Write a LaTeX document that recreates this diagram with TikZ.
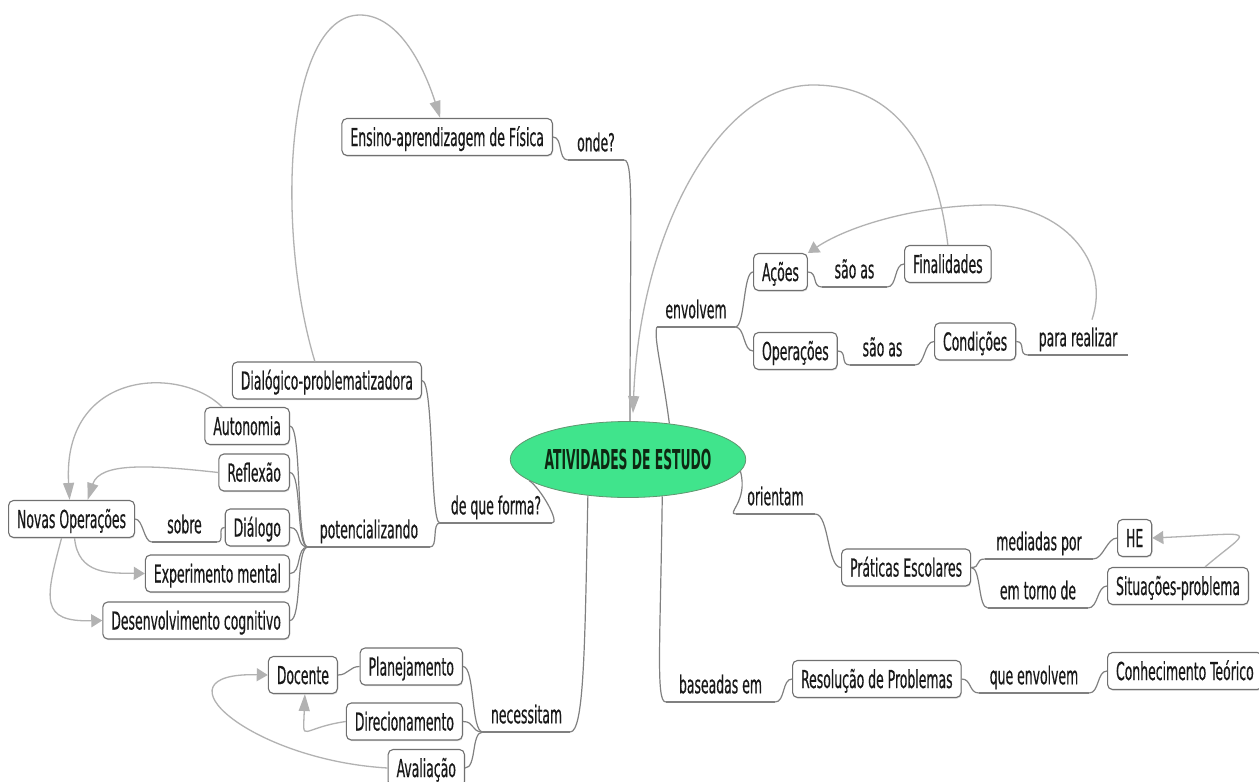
\documentclass[tikz,border=0pt]{standalone}
\usepackage{fontspec}
\setmainfont[FakeStretch=0.56,FakeBold=0.4]{DejaVu Sans Condensed}
\newfontfamily\rootfont[FakeStretch=0.5]{DejaVu Sans Condensed}
\usetikzlibrary{arrows.meta,shapes.geometric,shadows}
\definecolor{edgegray}{RGB}{128,128,128}
\definecolor{linkgray}{RGB}{178,178,178}
\definecolor{boxline}{RGB}{112,112,112}
\definecolor{rootfill}{RGB}{64,228,140}
\definecolor{rootline}{RGB}{96,150,112}
\definecolor{rootink}{RGB}{14,40,18}
\definecolor{ink}{RGB}{25,25,25}
\begin{document}
\begin{tikzpicture}[x=1pt,y=-1pt,
  every node/.style={font=\fontsize{24.7}{28}\selectfont, text=ink},
  concept/.style={draw=boxline, line width=1.1pt, fill=white, rounded corners=5pt,
    inner xsep=8.5pt, inner ysep=0pt, minimum height=37pt,
    text height=18pt, text depth=0pt,
    drop shadow={shadow xshift=0.6pt, shadow yshift=-1.2pt, fill=black!28}},
  rel/.style={anchor=south, inner xsep=0pt, inner ysep=8.5pt,
    text height=18pt, text depth=0pt},
  edge/.style={draw=edgegray, line width=1.2pt},
  link/.style={linkgray, line width=1.3pt},
  vtip/.style={-{Triangle[length=17pt,width=11pt]}},
  htip/.style={-{Triangle[length=11pt,width=13pt]}}
]
\fill[white] (0,0) rectangle (1259,782);
\useasboundingbox (0,0) rectangle (1259,782);

% central concept
\node[ellipse, draw=rootline, line width=0.8pt, fill=rootfill, minimum width=193pt,
  minimum height=76pt, inner sep=0pt, text=rootink,
  font=\rootfont\fontsize{27.4}{30}\selectfont\bfseries] (root) at (628,459.5) {ATIVIDADES DE ESTUDO};

% concepts
\node[concept, anchor=east] (ens) at (553,137) {Ensino-aprendizagem de Física};
\node[concept, anchor=east] (dia) at (422,380.5) {Dialógico-problematizadora};
\node[concept, anchor=east] (aut) at (290,426) {Autonomia};
\node[concept, anchor=east] (ref) at (290,472.5) {Reflexão};
\node[concept, anchor=east] (dlg) at (290,527.5) {Diálogo};
\node[concept, anchor=east] (exp) at (290,573.5) {Experimento mental};
\node[concept, anchor=east] (des) at (290,620.5) {Desenvolvimento cognitivo};
\node[concept, anchor=west] (nov) at (8,519) {Novas Operações};
\node[concept, anchor=east] (doc) at (338,675) {Docente};
\node[concept, anchor=east] (pla) at (463,666.5) {Planejamento};
\node[concept, anchor=east] (dir) at (463,721.5) {Direcionamento};
\node[concept, anchor=east] (ava) at (465,768) {Avaliação};
\node[concept, anchor=west] (aco) at (753,272) {Ações};
\node[concept, anchor=west] (fin) at (904,264) {Finalidades};
\node[concept, anchor=west] (ope) at (753,351) {Operações};
\node[concept, anchor=west] (con) at (934,341.5) {Condições};
\node[concept, anchor=west] (pra) at (841,567.5) {Práticas Escolares};
\node[concept, anchor=west] (he) at (1117,538) {HE};
\node[concept, anchor=west] (sit) at (1107,586) {Situações-problema};
\node[concept, anchor=west] (res) at (792,679) {Resolução de Problemas};
\node[concept, anchor=west] (conh) at (1107,671) {Conhecimento Teórico};

% relation labels (underlined)
\node[rel, minimum width=56pt] (onde) at (596,160) {onde?};
\node[rel, minimum width=78pt] (env) at (696,327) {envolvem};
\node[rel, minimum width=65pt] (sao1) at (854.5,287) {são as};
\node[rel, minimum width=65pt] (sao2) at (882.5,365) {são as};
\node[rel, minimum width=100pt] (para) at (1078,355) {para realizar};
\node[rel, minimum width=79pt] (ori) at (775.5,514) {orientam};
\node[rel, minimum width=108pt] (med) at (1039,559) {mediadas por};
\node[rel, minimum width=100pt] (tor) at (1038,608) {em torno de};
\node[rel, minimum width=109pt] (bas) at (720.5,702) {baseadas em};
\node[rel, minimum width=110pt] (que) at (1034,693) {que envolvem};
\node[rel, minimum width=112pt] (forma) at (496,523) {de que forma?};
\node[rel, minimum width=122pt] (pot) at (369,547) {potencializando};
\node[rel, minimum width=65pt] (sobre) at (184.5,542) {sobre};
\node[rel, minimum width=87pt] (nec) at (526.5,732) {necessitam};

\foreach \n in {onde,env,sao1,sao2,para,ori,med,tor,bas,que,forma,pot,sobre,nec}
  \draw[edge] (\n.south west) -- (\n.south east);

% tree edges
\draw[edge] ([xshift=2pt]root.north) .. controls +(0,-200) and +(10,0) .. (onde.south east);
\draw[edge] (onde.south west) .. controls +(-10,0) and +(10,0) .. (ens.east);
\draw[edge] (root.41) .. controls +(-8,-60) and +(-3,12) .. (env.south west);
\draw[edge] (env.south east) .. controls +(10,0) and +(-10,0) .. (aco.west);
\draw[edge] (env.south east) .. controls +(10,0) and +(-10,0) .. (ope.west);
\draw[edge] (aco.east) .. controls +(10,0) and +(-10,0) .. (sao1.south west);
\draw[edge] (sao1.south east) .. controls +(10,0) and +(-10,0) .. (fin.west);
\draw[edge] (ope.east) .. controls +(10,0) and +(-10,0) .. (sao2.south west);
\draw[edge] (sao2.south east) .. controls +(10,0) and +(-10,0) .. (con.west);
\draw[edge] (con.east) .. controls +(10,0) and +(-10,0) .. (para.south west);
\draw[edge] (root.354) .. controls +(8,30) and +(-10,0) .. (ori.south west);
\draw[edge] (ori.south east) .. controls +(14,0) and +(-14,0) .. (pra.west);
\draw[edge] (pra.east) .. controls +(10,0) and +(-10,0) .. (med.south west);
\draw[edge] (pra.east) .. controls +(10,0) and +(-10,0) .. (tor.south west);
\draw[edge] (med.south east) .. controls +(10,0) and +(-10,0) .. (he.west);
\draw[edge] (tor.south east) .. controls +(10,0) and +(-10,0) .. (sit.west);
\draw[edge] (root.313) .. controls +(-2,150) and +(-10,0) .. (bas.south west);
\draw[edge] (bas.south east) .. controls +(10,0) and +(-10,0) .. (res.west);
\draw[edge] (res.east) .. controls +(10,0) and +(-10,0) .. (que.south west);
\draw[edge] (que.south east) .. controls +(10,0) and +(-10,0) .. (conh.west);
\draw[edge] (root.192) .. controls +(12,8) and +(8,0) .. (forma.south east);
\draw[edge] (forma.south west) .. controls +(-10,0) and +(12,0) .. (dia.east);
\draw[edge] (forma.south west) .. controls +(-8,0) and +(8,0) .. (pot.south east);
\foreach \c in {aut,ref,dlg,exp,des}
  \draw[edge] (pot.south west) .. controls +(-12,0) and +(12,0) .. (\c.east);
\draw[edge] (dlg.west) .. controls +(-8,0) and +(8,0) .. (sobre.south east);
\draw[edge] (sobre.south west) .. controls +(-8,0) and +(8,0) .. (nov.east);
\draw[edge] (root.222) .. controls +(-3,150) and +(14,0) .. (nec.south east);
\foreach \c in {pla,dir,ava}
  \draw[edge] (nec.south west) .. controls +(-12,0) and +(12,0) .. (\c.east);
\draw[edge] (pla.west) .. controls +(-10,0) and +(10,0) .. (doc.east);

% cross links
\draw[link, vtip] (fin.north) .. controls (935,140) and (890,85) .. (813,85)
  .. controls (720,85) and (640,230) .. ([xshift=5pt,yshift=8pt]root.north);
\draw[link, htip] ([xshift=14pt]para.north) .. controls (1112,260) and (1060,205) .. (990,205)
  .. controls (920,205) and (850,225) .. (aco.north east);
\draw[link, htip] ([xshift=27pt]sit.north) .. controls (1252,527) and (1262,533) .. (he.east);
\draw[link, vtip] ([xshift=-12pt]dia.north) .. controls (275,230) and (285,15) .. (360,15)
  .. controls (400,15) and (425,70) .. ([xshift=-7pt]ens.north);
\draw[link, vtip] ([xshift=-25pt]aut.north) .. controls (180,365) and (62,370) .. ([xshift=-2pt]nov.north);
\draw[link, vtip] (ref.west) .. controls (150,465) and (100,462) .. ([xshift=16pt]nov.north);
\draw[link, htip] ([xshift=3pt]nov.south) .. controls (78,575) and (110,573) .. (exp.west);
\draw[link, htip] ([xshift=-10pt]nov.south) .. controls (45,600) and (40,622) .. (des.west);
\draw[link, vtip] (dir.west) .. controls (300,728) and (303,745) .. ([xshift=2pt]doc.south);
\draw[link, htip] (ava.west) .. controls (250,760) and (150,672) .. (doc.west);
\end{tikzpicture}
\end{document}
